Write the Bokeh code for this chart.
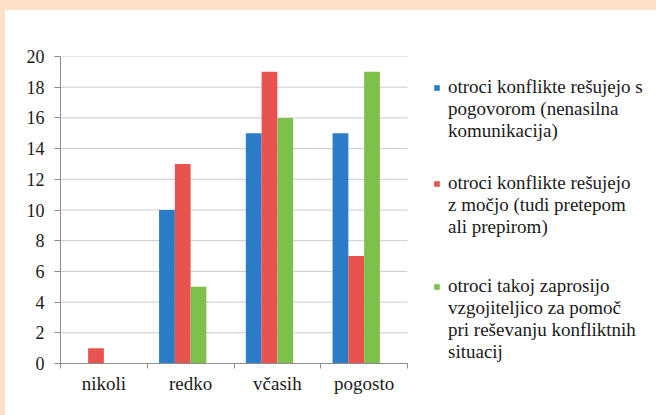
from bokeh.plotting import figure
from bokeh.models import (Range1d, FixedTicker, Legend, LegendItem, ColumnDataSource)
from bokeh.embed import file_html
from bokeh.resources import INLINE

categories = ["nikoli", "redko", "včasih", "pogosto"]
series_lines = [
    ["otroci konflikte rešujejo s", "pogovorom (nenasilna", "komunikacija)"],
    ["otroci konflikte rešujejo", "z močjo (tudi pretepom", "ali prepirom)"],
    ["otroci takoj zaprosijo", "vzgojiteljico za pomoč", "pri reševanju konfliktnih", "situacij"],
]
pogovor = [0, 10, 15, 15]
mocjo = [1, 13, 19, 7]
vzgojiteljica = [0, 5, 16, 19]
y_ticks = [0, 2, 4, 6, 8, 10, 12, 14, 16, 18, 20]

colors = ["#2B7CC6", "#E8534F", "#7DC04B"]
series = [pogovor, mocjo, vzgojiteljica]

FONT = "'Times New Roman', 'Liberation Serif', serif"
PEACH = "#FCE0C9"

# page layout (pixels)
BT, BL = 10, 5                    # peach band sizes
PAGE_W, PAGE_H = 656, 415
W, H = PAGE_W - BL, PAGE_H - BT   # host content size; canvas takes the border-box size
AXIS_X0, Y20, Y0 = 60, 56, 363    # page px of y-axis, y=20 and y=0
DATA_W = 347                      # pixel width of the category axis
LEFT, TOP = AXIS_X0 - BL, Y20 - BT
BOTTOM = BT + PAGE_H - Y0
frame_w = PAGE_W - LEFT
y_max = y_ticks[-1]
x_end = len(categories) * frame_w / DATA_W

p = figure(width=W, height=H, output_backend="svg", toolbar_location=None,
           x_range=Range1d(0, x_end), y_range=Range1d(0, y_max),
           min_border_left=LEFT, min_border_right=0, min_border_top=TOP,
           min_border_bottom=BOTTOM)
p.outline_line_color = None
p.background_fill_color = "white"
p.border_fill_color = "white"
p.xgrid.grid_line_color = None
p.ygrid.grid_line_color = None
p.styles = {"border-top": f"{BT}px solid {PEACH}", "border-left": f"{BL}px solid {PEACH}",
            "box-sizing": "content-box"}

# horizontal gridlines spanning only the category area
n_cat = len(categories)
p.segment(x0=[0] * (len(y_ticks) - 1), x1=[n_cat] * (len(y_ticks) - 1),
          y0=y_ticks[1:], y1=y_ticks[1:], line_color="#CCCCCC", line_width=1)

# Excel-like clustered bars: 4 slots per category (4th empty), gap 150%
n_slots = 4
w = 1.0 / (n_slots + 1.5)
centers = [i + 0.5 for i in range(n_cat)]
renderers = []
for j, (vals, col) in enumerate(zip(series, colors)):
    xs = [c + (j - (n_slots - 1) / 2) * w for c in centers]
    src = ColumnDataSource(dict(x=xs, top=vals))
    r = p.vbar(x="x", top="top", bottom=0, width=w, source=src,
               fill_color=col, line_color=None)
    renderers.append(r)

# invisible renderer used for continuation lines of legend labels
blank = p.vbar(x=[], top=[], width=w, fill_alpha=0, line_alpha=0)

# y axis
p.yaxis.ticker = FixedTicker(ticks=y_ticks)
p.yaxis.axis_line_color = "#8C8C8C"
p.yaxis.major_tick_line_color = "#8C8C8C"
p.yaxis.major_tick_out = 6
p.yaxis.major_tick_in = 0
p.yaxis.minor_tick_line_color = None
p.yaxis.major_label_standoff = 10
p.yaxis.major_label_text_font = FONT
p.yaxis.major_label_text_font_size = "18px"
p.yaxis.major_label_text_color = "#1a1a1a"

# x axis: labels at category centres, tick marks at boundaries
p.xaxis.bounds = (0, n_cat)
p.xaxis.ticker = FixedTicker(ticks=centers, minor_ticks=list(range(n_cat + 1)))
p.xaxis.major_label_overrides = {c: lab for c, lab in zip(centers, categories)}
p.xaxis.axis_line_color = "#8C8C8C"
p.xaxis.major_tick_line_color = None
p.xaxis.major_tick_out = 0
p.xaxis.major_tick_in = 0
p.xaxis.minor_tick_line_color = "#8C8C8C"
p.xaxis.minor_tick_out = 5
p.xaxis.minor_tick_in = 0
p.xaxis.major_label_standoff = 4
p.xaxis.major_label_text_font = FONT
p.xaxis.major_label_text_font_size = "19px"
p.xaxis.major_label_text_color = "#1a1a1a"

# legends: one per series, glyph on the first line
legend_bottoms = [221, 125, 0]   # screen px above frame bottom
legend_spacing = [-1, -1, -2]
for lines, r, vy, sp in zip(series_lines, renderers, legend_bottoms, legend_spacing):
    items = [LegendItem(label=lines[0], renderers=[r])]
    items += [LegendItem(label=t, renderers=[blank]) for t in lines[1:]]
    lg = Legend(items=items, location=(373, vy), padding=0, margin=0, spacing=sp,
                glyph_width=7, glyph_height=7, label_standoff=8, label_height=19,
                label_text_font=FONT, label_text_font_size="19px",
                label_text_color="#1a1a1a",
                border_line_color=None, background_fill_alpha=0)
    p.add_layout(lg)

open("out.html", "w").write(file_html(p, INLINE))
